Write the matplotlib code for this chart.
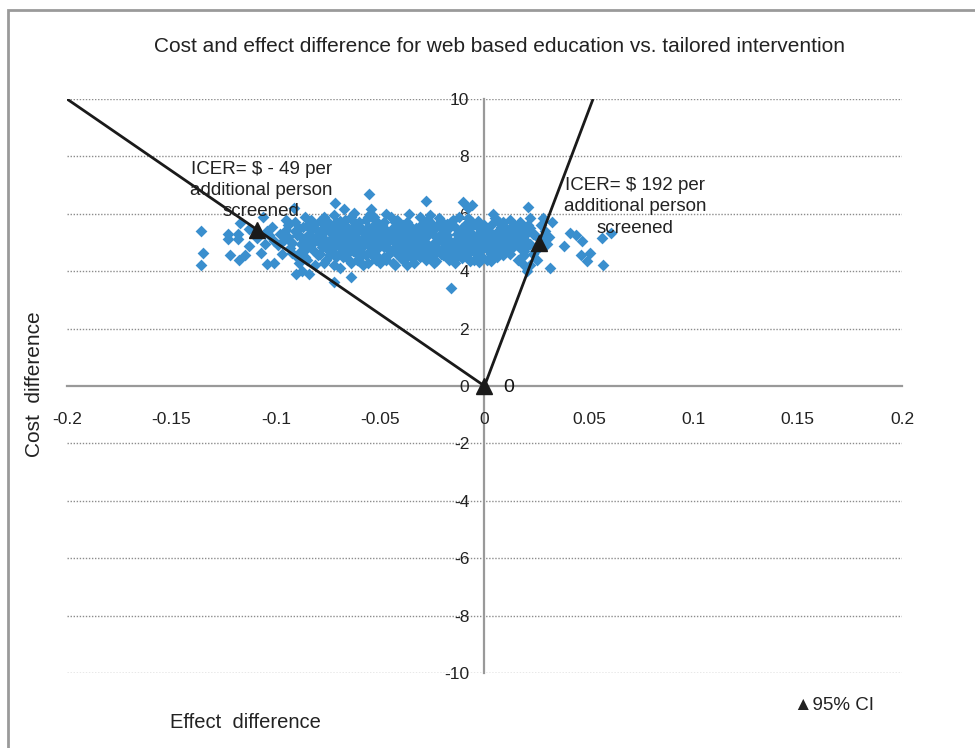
import matplotlib.pyplot as plt
import matplotlib.patches as patches
import numpy as np

plt.rcParams['font.family'] = ['Liberation Sans', 'DejaVu Sans']
plt.rcParams['axes.unicode_minus'] = False

# simulated effect / cost differences
effect_diff = [
    # far left outliers
    -0.136, -0.135, -0.1356, -0.123, -0.123, -0.118, -0.118, -0.1217, -0.1177, -0.1145,
    -0.1129, -0.107, -0.1044, -0.101, -0.106, -0.1169, -0.1129, -0.109, -0.103, -0.101,
    -0.104, -0.102, -0.105,
    # band -0.10 .. -0.09
    -0.098, -0.096, -0.094, -0.093, -0.091, -0.099, -0.092, -0.095, -0.097, -0.090, -0.091, -0.094,
    # band -0.09 .. -0.08
    -0.089, -0.088, -0.087, -0.086, -0.085, -0.084, -0.083, -0.082, -0.081, -0.088, -0.085, -0.083,
    -0.081, -0.086, -0.080, -0.089, -0.084,
    # band -0.08 .. -0.07
    -0.079, -0.078, -0.077, -0.076, -0.075, -0.074, -0.073, -0.072, -0.071, -0.079, -0.077, -0.076,
    -0.074, -0.073, -0.071, -0.070, -0.078, -0.075, -0.072, -0.070,
    # band -0.07 .. -0.06
    -0.069, -0.068, -0.067, -0.066, -0.065, -0.064, -0.063, -0.062, -0.061, -0.069, -0.068, -0.066,
    -0.065, -0.064, -0.063, -0.062, -0.061, -0.060, -0.067, -0.060, -0.069,
    # band -0.06 .. -0.05
    -0.059, -0.058, -0.057, -0.056, -0.055, -0.054, -0.053, -0.052, -0.051, -0.059, -0.058, -0.057,
    -0.056, -0.055, -0.054, -0.053, -0.052, -0.051, -0.050, -0.050, -0.058, -0.055,
    # band -0.05 .. -0.04
    -0.049, -0.048, -0.047, -0.046, -0.045, -0.044, -0.043, -0.042, -0.041, -0.049, -0.048, -0.047,
    -0.046, -0.045, -0.044, -0.043, -0.042, -0.041, -0.040, -0.040, -0.047, -0.044,
    # band -0.04 .. -0.03
    -0.039, -0.038, -0.037, -0.036, -0.035, -0.034, -0.033, -0.032, -0.031, -0.039, -0.038, -0.037,
    -0.036, -0.035, -0.034, -0.033, -0.032, -0.031, -0.030, -0.030, -0.036,
    # band -0.03 .. -0.02
    -0.029, -0.028, -0.027, -0.026, -0.025, -0.024, -0.023, -0.022, -0.021, -0.029, -0.028, -0.027,
    -0.026, -0.025, -0.024, -0.023, -0.022, -0.021, -0.020, -0.020,
    # band -0.02 .. -0.01
    -0.019, -0.018, -0.017, -0.016, -0.015, -0.014, -0.013, -0.012, -0.011, -0.019, -0.018, -0.017,
    -0.016, -0.015, -0.014, -0.013, -0.012, -0.011, -0.010, -0.010,
    # band -0.01 .. 0
    -0.009, -0.008, -0.007, -0.006, -0.005, -0.004, -0.003, -0.002, -0.001, -0.009, -0.008, -0.007,
    -0.006, -0.005, -0.004, -0.003, -0.002, -0.001, 0.000, -0.006,
    # band 0 .. 0.01
    0.001, 0.002, 0.003, 0.004, 0.005, 0.006, 0.007, 0.008, 0.009, 0.001, 0.003, 0.005,
    0.006, 0.008, 0.009, 0.010, 0.004, 0.010,
    # band 0.01 .. 0.02
    0.011, 0.012, 0.013, 0.014, 0.015, 0.016, 0.017, 0.018, 0.019, 0.012, 0.014, 0.016,
    0.018, 0.020, 0.011, 0.019,
    # band 0.02 .. 0.03
    0.021, 0.022, 0.023, 0.024, 0.026, 0.027, 0.028, 0.025, 0.029, 0.030, 0.022, 0.031,
    # isolated points above / below the cloud
    -0.0554, -0.0714, -0.0913, -0.0674, -0.0546, -0.0626, -0.0278, -0.0102, -0.008, -0.016,
    -0.0905, -0.0873, -0.0842, -0.0722, -0.064, -0.0027, 0.0029,
    # right tail
    0.0208, 0.022, 0.028, 0.0324, 0.0409, 0.044, 0.0468, 0.0564, 0.0604, 0.0383,
    0.046, 0.0505, 0.0492, 0.0568, 0.0316, 0.0188, 0.0204,
    # dense core, second pass
    -0.095, -0.093, -0.090, -0.088, -0.087, -0.086, -0.092,
    -0.084, -0.083, -0.082, -0.080, -0.079, -0.078, -0.077, -0.076, -0.082, -0.080, -0.076,
    -0.074, -0.073, -0.072, -0.071, -0.070, -0.069, -0.068, -0.067, -0.066, -0.072, -0.074, -0.066, -0.065,
    -0.064, -0.063, -0.062, -0.061, -0.060, -0.059, -0.058, -0.057, -0.056, -0.063, -0.061, -0.057, -0.056,
    -0.054, -0.053, -0.052, -0.051, -0.050, -0.049, -0.048, -0.047, -0.046, -0.053, -0.051, -0.048, -0.046, -0.045,
    -0.044, -0.043, -0.042, -0.041, -0.040, -0.039, -0.038, -0.037, -0.036, -0.043, -0.041, -0.039, -0.037, -0.035,
    -0.034, -0.033, -0.032, -0.031, -0.030, -0.029, -0.028, -0.027, -0.026, -0.033, -0.031, -0.029, -0.027, -0.025,
    -0.024, -0.023, -0.022, -0.021, -0.020, -0.019, -0.018, -0.017, -0.016, -0.024, -0.022, -0.020, -0.018, -0.016,
    -0.014, -0.013, -0.012, -0.011, -0.010, -0.009, -0.008, -0.007, -0.006, -0.013, -0.011, -0.009, -0.007, -0.005,
    -0.004, -0.003, -0.002, -0.001, 0.000, 0.001, 0.002, 0.003, 0.004, -0.003, -0.001, 0.002, 0.004,
    0.006, 0.007, 0.008, 0.009, 0.010, 0.011, 0.012, 0.013, 0.014, 0.007, 0.009, 0.012, 0.015,
    0.016, 0.017, 0.018, 0.019, 0.020, 0.021, 0.022, 0.023, 0.017, 0.019, 0.024,
]
cost_diff = [
    5.40, 4.65, 4.22, 5.28, 5.12, 5.28, 5.12, 4.56, 4.39, 4.56,
    4.88, 4.65, 4.24, 4.27, 5.90, 5.67, 5.47, 5.15, 5.25, 5.05,
    5.40, 5.55, 4.95,
    5.3, 5.1, 5.6, 4.8, 5.4, 4.9, 5.0, 5.8, 4.6, 4.5, 5.7, 5.2,
    5.5, 4.7, 5.0, 5.9, 4.4, 5.3, 4.9, 5.6, 4.2, 5.2, 4.8, 5.8,
    5.1, 4.5, 5.4, 4.3, 5.65,
    4.6, 5.2, 5.9, 4.4, 5.5, 4.9, 5.3, 4.2, 5.7, 5.0, 4.3, 5.6,
    5.1, 4.7, 4.5, 5.3, 5.45, 4.75, 5.95, 4.9,
    5.2, 4.5, 5.8, 4.8, 5.4, 4.3, 5.0, 5.6, 4.6, 4.1, 5.5, 5.1,
    4.4, 5.9, 4.7, 5.3, 4.95, 5.7, 4.85, 4.35, 5.75,
    5.1, 4.6, 5.8, 4.3, 5.4, 4.9, 5.6, 4.4, 5.2, 5.5, 4.2, 5.0,
    5.9, 4.7, 5.3, 4.5, 5.75, 4.8, 5.05, 4.3, 5.35, 6.0,
    5.6, 4.5, 5.2, 4.8, 5.9, 4.3, 5.4, 5.0, 4.6, 4.9, 5.7, 4.4,
    5.3, 4.7, 5.5, 4.2, 5.8, 5.1, 4.45, 5.45, 6.0, 5.05,
    5.3, 4.6, 5.7, 4.9, 5.1, 4.3, 5.5, 4.7, 5.9, 4.4, 5.0, 4.2,
    5.6, 4.5, 5.35, 4.85, 5.2, 4.5, 5.65, 4.95, 6.0,
    5.2, 4.4, 5.8, 4.8, 5.4, 4.3, 5.0, 5.6, 4.6, 4.7, 5.5, 4.9,
    5.95, 4.5, 5.25, 4.35, 5.1, 5.75, 4.8, 5.35,
    5.6, 4.5, 5.1, 4.8, 5.8, 4.3, 5.3, 4.9, 5.5, 4.95, 5.25, 4.4,
    5.7, 4.6, 5.05, 4.7, 5.9, 4.45, 5.2, 4.75,
    5.4, 4.6, 5.0, 5.7, 4.4, 5.2, 4.8, 5.5, 4.5, 4.9, 5.85, 4.35,
    5.3, 4.75, 5.6, 4.55, 5.05, 5.35, 4.9, 6.3,
    5.3, 4.7, 5.6, 4.9, 5.1, 4.5, 5.45, 4.8, 5.7, 4.4, 5.0, 5.85,
    4.7, 5.25, 4.55, 5.0, 6.0, 5.55,
    5.2, 4.6, 5.5, 4.9, 5.3, 4.4, 5.7, 5.0, 4.7, 5.8, 5.1, 5.6,
    4.5, 5.3, 4.75, 5.45,
    5.0, 5.5, 4.6, 5.25, 4.85, 5.6, 5.1, 4.4, 5.4, 4.95, 4.2, 5.2,
    6.68, 6.37, 6.19, 6.17, 6.17, 6.02, 6.46, 6.42, 6.21, 3.42,
    3.89, 4.00, 3.89, 3.63, 3.81, 4.33, 4.36,
    6.23, 5.84, 5.84, 5.73, 5.32, 5.26, 5.05, 5.17, 5.32, 4.88,
    4.56, 4.65, 4.36, 4.22, 4.12, 4.22, 4.00,
    5.45, 5.05, 5.25, 4.95, 5.55, 5.15, 4.65,
    5.0, 5.45, 4.75, 5.25, 5.75, 4.85, 5.35, 5.05, 5.15, 4.55, 5.8,
    5.6, 5.15, 4.85, 5.05, 5.55, 4.65, 5.0, 5.3, 4.6, 5.4, 4.55, 5.55, 5.15,
    5.45, 5.2, 4.8, 5.4, 5.05, 4.8, 5.15, 4.55, 5.55, 5.75, 4.4, 5.3, 4.95,
    5.15, 4.75, 5.45, 5.0, 5.55, 5.25, 4.85, 5.45, 5.05, 5.9, 4.5, 5.2, 4.55, 5.25,
    4.75, 5.2, 4.6, 5.6, 5.15, 4.75, 5.25, 4.95, 5.35, 5.7, 4.85, 5.6, 5.45, 4.7,
    5.05, 5.25, 4.95, 5.4, 4.7, 5.45, 5.0, 5.25, 4.6, 4.55, 5.05, 4.95, 4.65, 5.65,
    5.0, 5.55, 4.75, 5.3, 5.05, 5.35, 4.8, 5.5, 5.0, 4.6, 5.85, 4.55, 5.65, 4.55,
    5.55, 5.05, 4.65, 5.25, 4.95, 5.15, 5.3, 4.8, 5.0, 4.5, 4.9, 5.65, 5.5, 5.2,
    5.0, 5.3, 4.7, 5.15, 5.6, 5.0, 5.4, 4.6, 5.25, 5.75, 4.8, 5.15, 4.5,
    5.25, 4.95, 5.55, 5.1, 4.7, 5.4, 5.05, 4.8, 5.6, 5.7, 4.85, 5.3, 4.95,
    5.15, 4.8, 5.4, 5.1, 4.85, 5.6, 4.95, 5.3, 5.45, 4.55, 4.7,
]

# ICER lines through the origin and 95% CI markers
line_x = [-0.2, 0.0, 0.052]
line_y = [10.0, 0.0, 10.0]
ci_x = [-0.109, 0.0, 0.026]
ci_y = [5.45, 0.0, 5.0]

x_ticks = [-0.2, -0.15, -0.1, -0.05, 0, 0.05, 0.1, 0.15, 0.2]
x_tick_labels = ['-0.2', '-0.15', '-0.1', '-0.05', '0', '0.05', '0.1', '0.15', '0.2']
y_ticks = [-10, -8, -6, -4, -2, 0, 2, 4, 6, 8, 10]

fig = plt.figure(figsize=(9.75, 7.48), dpi=100)
ax = fig.add_axes([67 / 975, 1 - 673 / 748, 835 / 975, 574 / 748])

# horizontal dotted gridlines
for yv in y_ticks:
    if yv != 0:
        ax.axhline(yv, color='#8c8c8c', lw=1.0, ls=(0, (1, 1.2)), zorder=0)

ax.scatter(effect_diff, cost_diff, marker='D', s=36, color='#3A8FCE', linewidths=0, zorder=2)

ax.plot(line_x, line_y, color='#1a1a1a', lw=2, zorder=3, solid_capstyle='butt')
ax.plot(ci_x, ci_y, ls='none', marker='^', markersize=12, color='#1a1a1a', zorder=4)

ax.set_xlim(-0.2, 0.2)
ax.set_ylim(-10, 10)

# axes crossing at zero
ax.spines['left'].set_position(('data', 0))
ax.spines['bottom'].set_position(('data', 0))
ax.spines['top'].set_visible(False)
ax.spines['right'].set_visible(False)
for s in ['left', 'bottom']:
    ax.spines[s].set_color('#999999')
    ax.spines[s].set_linewidth(1.6)
    ax.spines[s].set_zorder(1)

ax.set_xticks(x_ticks)
ax.set_xticklabels(x_tick_labels)
ax.set_yticks(y_ticks)
ax.tick_params(axis='both', length=0, labelsize=12.5, colors='#222222')
ax.tick_params(axis='x', pad=19)
ax.tick_params(axis='y', pad=11)
ax.patch.set_visible(False)

# data label on origin triangle
ax.text(0.009, -0.05, '0', fontsize=14, color='#111111', va='center', ha='left')

ax.text(-0.107, 6.8, 'ICER= $ - 49 per\nadditional person\nscreened', fontsize=13.5,
        ha='center', va='center', color='#222222', linespacing=1.3)
ax.text(0.072, 6.25, 'ICER= $ 192 per\nadditional person\nscreened', fontsize=13.5,
        ha='center', va='center', color='#222222', linespacing=1.35)

fig.text(500 / 975, 1 - 46 / 748,
         'Cost and effect difference for web based education vs. tailored intervention',
         fontsize=15, ha='center', va='center', color='#222222')
fig.text(35 / 975, 1 - 384 / 748, 'Cost  difference', rotation=90, fontsize=15,
         ha='center', va='center', color='#222222')
fig.text(245 / 975, 1 - 722 / 748, 'Effect  difference', fontsize=14.5,
         ha='center', va='center', color='#222222')
fig.text(834 / 975, 1 - 706 / 748, '\u25B295% CI', fontsize=13.5,
         ha='center', va='center', color='#222222')

# chart area border (Excel style)
fig.add_artist(patches.Rectangle((8 / 975, -0.2), 1.2, 1 - 10 / 748 + 0.2,
                                 transform=fig.transFigure, fill=False,
                                 edgecolor='#9a9a9a', lw=2))

fig.savefig('out.png', dpi=100, facecolor='white')
